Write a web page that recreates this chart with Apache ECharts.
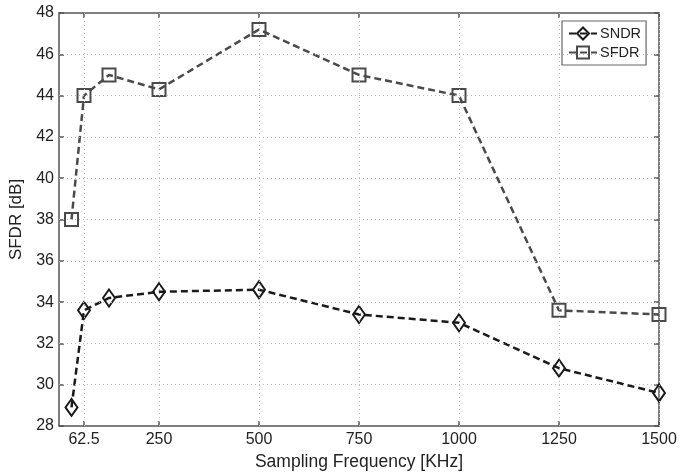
<!DOCTYPE html>
<html>
<head>
<meta charset="utf-8">
<script src="https://cdn.jsdelivr.net/npm/echarts@6/dist/echarts.min.js"></script>
<style>
  html, body { margin: 0; padding: 0; background: #fff; }
  #chart { width: 681px; height: 476px; }
</style>
</head>
<body>
<div id="chart"></div>
<script>
// Sampling frequencies (kHz) at which both metrics were measured
const freqs = [31.25, 62.5, 125, 250, 500, 750, 1000, 1250, 1500];
// Signal-to-noise-and-distortion ratio, dB
const sndr = [28.9, 33.6, 34.2, 34.5, 34.6, 33.4, 33.0, 30.8, 29.6];
// Spurious-free dynamic range, dB
const sfdr = [38.0, 44.0, 45.0, 44.3, 47.2, 45.0, 44.0, 33.6, 33.4];
// Labelled x ticks
const xTicks = [62.5, 250, 500, 750, 1000, 1250, 1500];

const FONT = 'Liberation Sans, Arial, sans-serif';
const AX = '#555';
const GRID = '#bbb';

const pairs = (ys) => freqs.map((f, i) => [f, ys[i]]);

const chart = echarts.init(document.getElementById('chart'));

const xBase = {
  type: 'value', min: 0, max: 1500,
  axisLine: { show: true, onZero: false, lineStyle: { color: AX, width: 1.5 } },
  axisTick: { show: true, inside: true, length: 5, customValues: xTicks, lineStyle: { color: AX, width: 1.5 } },
  splitLine: { show: false }
};
const yBase = {
  type: 'value', min: 28, max: 48, interval: 2,
  axisLine: { show: true, onZero: false, lineStyle: { color: AX, width: 1.5 } },
  axisTick: { show: true, inside: true, length: 5, lineStyle: { color: AX, width: 1.5 } },
  splitLine: { show: false }
};

chart.setOption({
  animation: false,
  backgroundColor: '#fff',
  grid: { left: 58, right: 22, top: 13, bottom: 49 },
  legend: {
    left: 562, top: 21,
    orient: 'vertical',
    backgroundColor: '#fff',
    borderColor: '#666', borderWidth: 1.2,
    padding: [5, 5, 5, 6],
    itemGap: 4,
    itemWidth: 28, itemHeight: 15,
    textStyle: { fontFamily: FONT, fontSize: 14.5, color: '#222', padding: [0, 0, 0, -2] },
    data: ['SNDR', 'SFDR']
  },
  xAxis: [
    Object.assign({}, xBase, {
      position: 'bottom',
      name: 'Sampling Frequency [KHz]', nameLocation: 'middle', nameGap: 27,
      nameTextStyle: { fontFamily: FONT, fontSize: 17.5, color: '#222' },
      axisLabel: {
        customValues: xTicks, margin: 6, fontFamily: FONT, fontSize: 16, color: '#222',
        formatter: (v) => String(v)
      }
    }),
    Object.assign({}, xBase, { position: 'top', axisLabel: { show: false } })
  ],
  yAxis: [
    Object.assign({}, yBase, {
      position: 'left',
      name: 'SFDR [dB]', nameLocation: 'middle', nameGap: 34,
      nameTextStyle: { fontFamily: FONT, fontSize: 17, color: '#222' },
      axisLabel: { margin: 5, fontFamily: FONT, fontSize: 16, color: '#222' }
    }),
    Object.assign({}, yBase, { position: 'right', axisLabel: { show: false } })
  ],
  series: [
    {
      // dotted grid: vertical lines at labelled frequencies, horizontal at y ticks
      type: 'line', silent: true, data: [],
      markLine: {
        silent: true, symbol: 'none', label: { show: false },
        lineStyle: { color: GRID, type: [1, 3], width: 1 },
        data: xTicks.map(v => ({ xAxis: v }))
          .concat([30, 32, 34, 36, 38, 40, 42, 44, 46].map(v => ({ yAxis: v })))
      }
    },
    {
      name: 'SNDR', type: 'line', data: pairs(sndr), z: 4,
      symbol: 'diamond', symbolSize: [12, 17],
      lineStyle: { color: '#1a1a1a', width: 2.5, type: [7, 4] },
      itemStyle: { color: 'rgba(255,255,255,0)', borderColor: '#1a1a1a', borderWidth: 2 }
    },
    {
      name: 'SFDR', type: 'line', data: pairs(sfdr), z: 3,
      symbol: 'rect', symbolSize: 13,
      lineStyle: { color: '#4a4a4a', width: 2.5, type: [7, 4] },
      itemStyle: { color: 'rgba(255,255,255,0)', borderColor: '#4a4a4a', borderWidth: 2 }
    }
  ]
});
</script>
</body>
</html>
